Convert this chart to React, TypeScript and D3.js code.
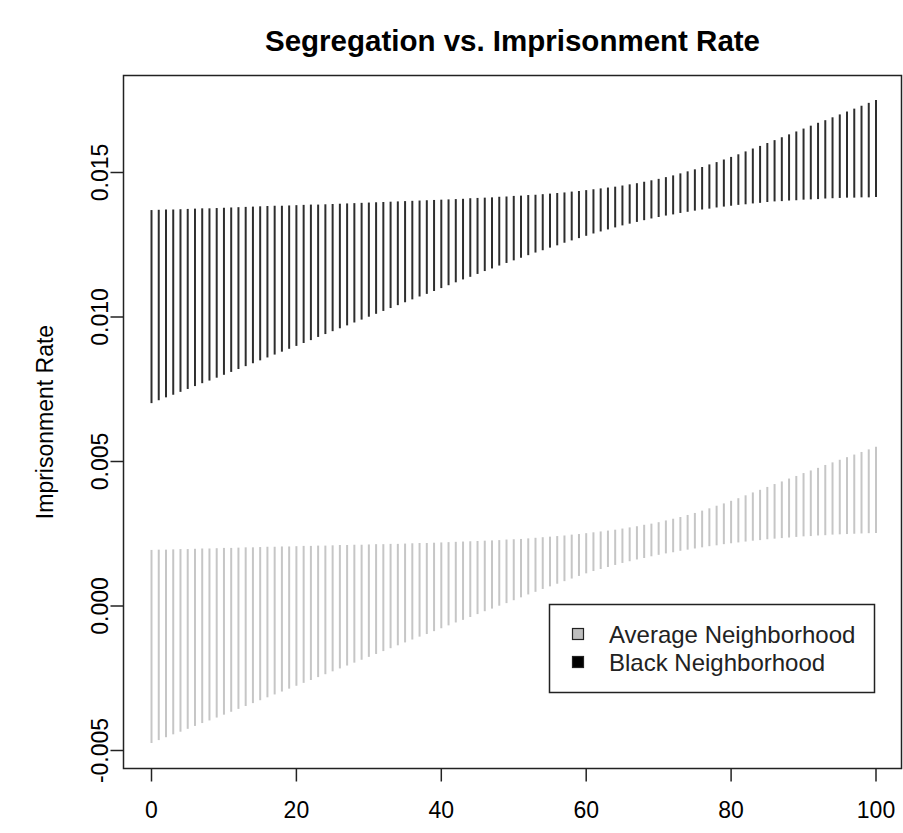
import React from "react";
import * as d3 from "d3";

const segregation: number[] = d3.range(0, 101);

const blackUpper = [
  0.01370,0.01371,0.01372,0.01372,0.01373,0.01374,0.01375,0.01376,0.01376,0.01377,0.01378,
  0.01379,0.01380,0.01381,0.01382,0.01383,0.01384,0.01385,0.01385,0.01386,0.01387,
  0.01388,0.01389,0.01389,0.01390,0.01391,0.01392,0.01393,0.01394,0.01395,0.01396,
  0.01397,0.01398,0.01399,0.01400,0.01401,0.01402,0.01403,0.01404,0.01405,0.01406,
  0.01407,0.01408,0.01409,0.01411,0.01412,0.01413,0.01414,0.01416,0.01417,0.01419,
  0.01420,0.01422,0.01423,0.01425,0.01427,0.01429,0.01431,0.01434,0.01436,0.01439,
  0.01442,0.01445,0.01448,0.01451,0.01455,0.01459,0.01463,0.01468,0.01473,0.01478,
  0.01484,0.01490,0.01497,0.01504,0.01511,0.01519,0.01528,0.01536,0.01545,0.01554,
  0.01563,0.01573,0.01583,0.01592,0.01602,0.01612,0.01622,0.01632,0.01642,0.01652,
  0.01662,0.01672,0.01681,0.01691,0.01701,0.01711,0.01721,0.01731,0.01741,0.01751,
];

const blackLower = [
  0.00702,0.00712,0.00722,0.00731,0.00741,0.00751,0.00761,0.00771,0.00780,0.00790,0.00800,
  0.00810,0.00820,0.00830,0.00840,0.00850,0.00860,0.00870,0.00880,0.00890,0.00900,
  0.00910,0.00920,0.00931,0.00941,0.00951,0.00961,0.00971,0.00981,0.00991,0.01001,
  0.01011,0.01021,0.01031,0.01041,0.01051,0.01061,0.01071,0.01080,0.01090,0.01100,
  0.01110,0.01120,0.01130,0.01139,0.01149,0.01159,0.01168,0.01178,0.01187,0.01196,
  0.01205,0.01214,0.01223,0.01231,0.01240,0.01248,0.01257,0.01265,0.01273,0.01281,
  0.01289,0.01296,0.01303,0.01310,0.01317,0.01323,0.01329,0.01335,0.01341,0.01346,
  0.01351,0.01355,0.01360,0.01364,0.01368,0.01372,0.01375,0.01379,0.01382,0.01385,
  0.01388,0.01390,0.01393,0.01395,0.01398,0.01400,0.01401,0.01403,0.01404,0.01406,
  0.01407,0.01408,0.01410,0.01411,0.01412,0.01413,0.01413,0.01414,0.01414,0.01415,
];

const grayUpper = [
  0.00194,0.00195,0.00195,0.00196,0.00197,0.00197,0.00198,0.00199,0.00199,0.00200,0.00201,
  0.00201,0.00202,0.00203,0.00203,0.00204,0.00205,0.00205,0.00206,0.00206,0.00207,
  0.00208,0.00208,0.00209,0.00209,0.00210,0.00211,0.00211,0.00212,0.00212,0.00213,
  0.00214,0.00214,0.00215,0.00215,0.00216,0.00217,0.00218,0.00218,0.00219,0.00220,
  0.00221,0.00222,0.00223,0.00224,0.00225,0.00226,0.00227,0.00228,0.00230,0.00231,
  0.00232,0.00234,0.00236,0.00238,0.00240,0.00242,0.00244,0.00247,0.00249,0.00252,
  0.00255,0.00258,0.00261,0.00264,0.00268,0.00272,0.00276,0.00281,0.00285,0.00290,
  0.00296,0.00302,0.00308,0.00315,0.00322,0.00330,0.00338,0.00347,0.00355,0.00364,
  0.00373,0.00383,0.00393,0.00402,0.00412,0.00422,0.00431,0.00441,0.00450,0.00460,
  0.00469,0.00478,0.00488,0.00497,0.00506,0.00515,0.00524,0.00533,0.00542,0.00551,
];

const grayLower = [
  -0.00474,-0.00464,-0.00454,-0.00444,-0.00435,-0.00425,-0.00415,-0.00405,-0.00396,-0.00386,-0.00376,
  -0.00366,-0.00356,-0.00346,-0.00336,-0.00326,-0.00316,-0.00306,-0.00296,-0.00286,-0.00276,
  -0.00266,-0.00256,-0.00246,-0.00236,-0.00226,-0.00216,-0.00206,-0.00196,-0.00186,-0.00176,
  -0.00166,-0.00156,-0.00146,-0.00136,-0.00126,-0.00116,-0.00106,-0.00097,-0.00087,-0.00077,
  -0.00067,-0.00057,-0.00048,-0.00038,-0.00028,-0.00018,-0.00009,0.00001,0.00010,0.00020,
  0.00030,0.00040,0.00049,0.00059,0.00068,0.00077,0.00086,0.00095,0.00104,0.00113,
  0.00121,0.00128,0.00135,0.00142,0.00149,0.00155,0.00161,0.00166,0.00172,0.00177,
  0.00182,0.00186,0.00191,0.00195,0.00199,0.00203,0.00207,0.00210,0.00214,0.00217,
  0.00220,0.00223,0.00226,0.00228,0.00231,0.00233,0.00235,0.00237,0.00239,0.00241,
  0.00242,0.00244,0.00245,0.00247,0.00248,0.00249,0.00250,0.00251,0.00252,0.00253,
];

const xTicks = [0, 20, 40, 60, 80, 100];
const yTicks = [-0.005, 0, 0.005, 0.01, 0.015];
const yTickLabels = ["-0.005", "0.000", "0.005", "0.010", "0.015"];
const legendLabels = ["Average Neighborhood", "Black Neighborhood"];
const legendColors = ["#bebebe", "#000000"];

const TITLE = "Segregation vs. Imprisonment Rate";
const YLABEL = "Imprisonment Rate";

export default function App() {
  const W = 903, H = 833;
  const box = { left: 123.5, right: 901.5, top: 75.5, bottom: 768.5 };
  const x = d3.scaleLinear().domain([0, 100]).range([151.5, 876]);
  const y = d3.scaleLinear().domain([-0.005, 0.015]).range([750.5, 172.5]);
  const font = "'Liberation Sans', Arial, sans-serif";

  const series = [
    { lo: grayLower, hi: grayUpper, color: "#c6c6c6" },
    { lo: blackLower, hi: blackUpper, color: "#2e2e2e" },
  ];

  const legX = 549.5, legY = 604.5, legW = 325, legH = 88;

  return (
    <svg width={W} height={H} style={{ position: "absolute", left: 0, top: 0, background: "#fff" }} fontFamily={font}>
      <rect x={0} y={0} width={W} height={H} fill="#fff" />
      <text x={(box.left + box.right) / 2} y={51} textAnchor="middle" fontWeight="bold" fontSize={29.5}>
        {TITLE}
      </text>
      {series.map((s, si) => (
        <g key={si} stroke={s.color} strokeWidth={2}>
          {segregation.map((sx, i) => (
            <line key={i} x1={x(sx)} x2={x(sx)} y1={y(s.lo[i])} y2={y(s.hi[i])} />
          ))}
        </g>
      ))}
      <rect x={box.left} y={box.top} width={box.right - box.left} height={box.bottom - box.top}
        fill="none" stroke="#222" strokeWidth={1.5} />
      {/* x axis */}
      <g>
        {xTicks.map((t) => (
          <g key={t}>
            <line x1={x(t)} x2={x(t)} y1={box.bottom} y2={box.bottom + 13} stroke="#222" strokeWidth={1.5} />
            <text x={x(t)} y={818} textAnchor="middle" fontSize={23}>{t}</text>
          </g>
        ))}
      </g>
      {/* y axis */}
      <g>
        {yTicks.map((t, i) => (
          <g key={t}>
            <line x1={box.left - 13} x2={box.left} y1={y(t)} y2={y(t)} stroke="#222" strokeWidth={1.5} />
            <text transform={`translate(${108},${y(t)}) rotate(-90)`} textAnchor="middle" fontSize={23}>
              {yTickLabels[i]}
            </text>
          </g>
        ))}
      </g>
      <text transform={`translate(${53},${(box.top + box.bottom) / 2}) rotate(-90)`} textAnchor="middle" fontSize={23}>
        {YLABEL}
      </text>
      {/* legend */}
      <rect x={legX} y={legY} width={legW} height={legH} fill="#fff" stroke="#222" strokeWidth={1.5} />
      {legendLabels.map((lab, i) => (
        <g key={lab}>
          <rect x={572.5} y={628.5 + i * 28} width={11} height={11} fill={legendColors[i]} stroke="#222" strokeWidth={1.2} />
          <text x={609} y={634 + i * 28} dominantBaseline="central" fontSize={24} fill="#222">{lab}</text>
        </g>
      ))}
    </svg>
  );
}
